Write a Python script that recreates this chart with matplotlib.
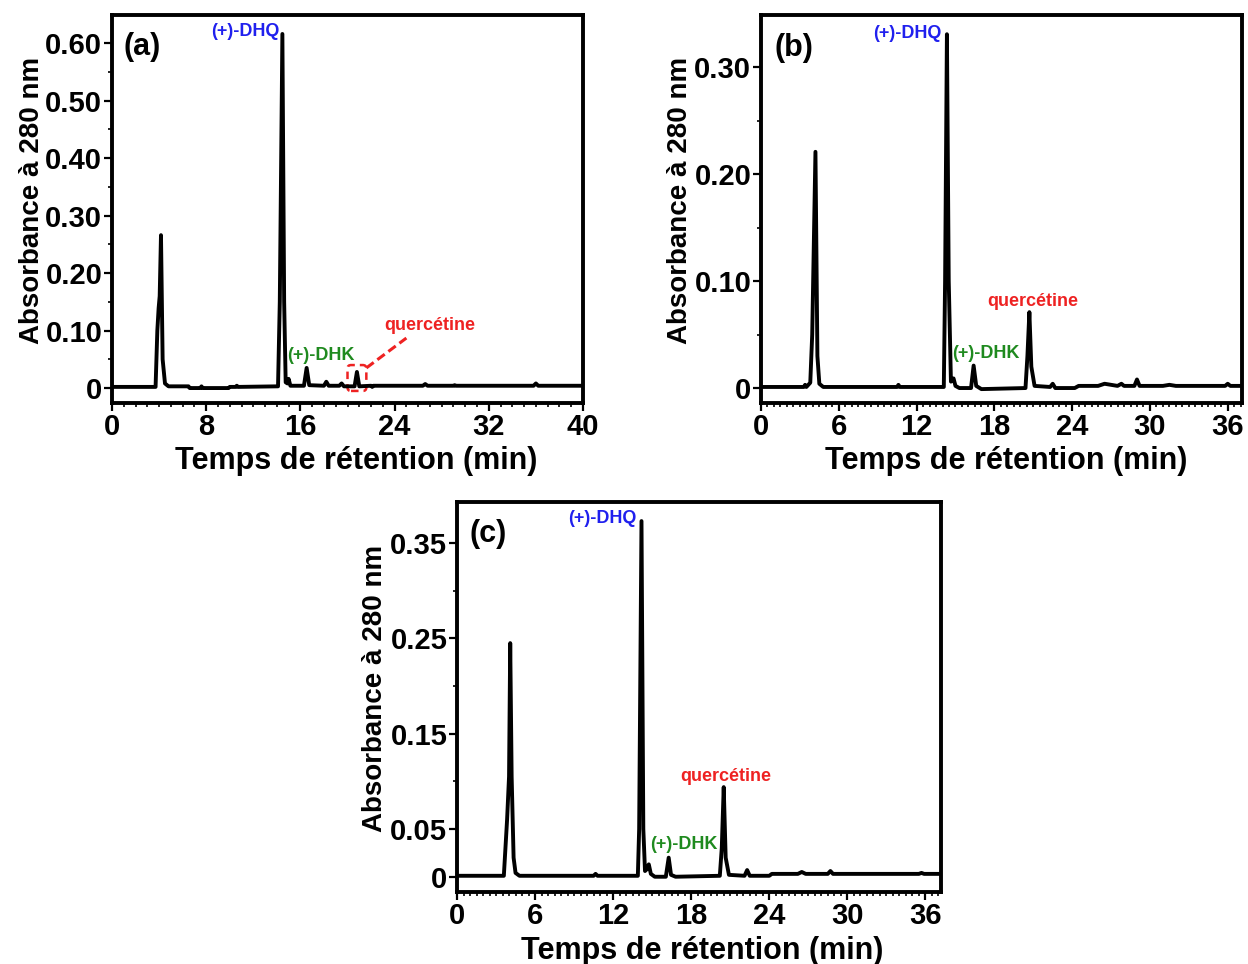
import numpy as np
import matplotlib.pyplot as plt
from matplotlib.ticker import MultipleLocator, FixedLocator
from matplotlib.patches import FancyBboxPatch

plt.rcParams['font.family'] = ['Liberation Sans', 'DejaVu Sans']

# chromatogram (a): retention time (min), absorbance at 280 nm
t_a = [0, 3.7, 3.85, 3.96, 4.05, 4.16, 4.3, 4.5, 4.8, 6.5, 6.6, 7.5, 7.6, 7.7, 9.9, 10.0,
       10.5, 10.6, 10.7, 14.1, 14.25, 14.47, 14.62, 14.75, 14.9, 15.0, 15.15, 16.3, 16.53,
       16.75, 18.0, 18.2, 18.4, 19.3, 19.5, 19.7, 20.6, 20.8, 21.0, 22.0, 22.1, 22.2, 26.4,
       26.6, 26.8, 29.0, 29.1, 29.2, 35.8, 36.0, 36.2, 40.0]
a_a = [0.002, 0.002, 0.10, 0.139, 0.16, 0.266, 0.05, 0.008, 0.003, 0.003, 0.0, 0.0, 0.003,
       0.0, 0.0, 0.002, 0.002, 0.004, 0.002, 0.003, 0.15, 0.616, 0.15, 0.01, 0.008, 0.016,
       0.004, 0.004, 0.035, 0.005, 0.004, 0.011, 0.004, 0.004, 0.008, 0.003, 0.003, 0.028,
       0.003, 0.004, 0.002, 0.004, 0.004, 0.007, 0.004, 0.004, 0.005, 0.004, 0.004, 0.008,
       0.004, 0.004]

# chromatogram (b)
t_b = [0, 3.3, 3.4, 3.5, 3.8, 3.95, 4.2, 4.35, 4.5, 4.8, 10.5, 10.6, 10.7, 14.1, 14.2,
       14.34, 14.48, 14.65, 14.85, 15.0, 15.3, 16.2, 16.4, 16.6, 17.0, 20.4, 20.55, 20.7,
       20.85, 21.1, 22.3, 22.5, 22.7, 23.0, 24.2, 24.5, 26.0, 26.5, 27.5, 27.8, 28.0, 28.8,
       29.0, 29.2, 31.0, 31.5, 32.0, 35.8, 36.0, 36.2, 37.1]
a_b = [0.001, 0.001, 0.003, 0.001, 0.005, 0.05, 0.221, 0.03, 0.004, 0.001, 0.001, 0.003,
       0.001, 0.001, 0.1, 0.331, 0.1, 0.006, 0.009, 0.002, 0.0, 0.0, 0.021, 0.002, -0.001,
       0.0, 0.03, 0.071, 0.02, 0.002, 0.001, 0.004, 0.0, 0.0, 0.0, 0.002, 0.002, 0.004,
       0.002, 0.004, 0.002, 0.002, 0.008, 0.002, 0.002, 0.003, 0.002, 0.002, 0.004, 0.002,
       0.002]

# chromatogram (c)
t_c = [0, 3.6, 3.85, 4.0, 4.09, 4.2, 4.35, 4.5, 4.8, 10.5, 10.65, 10.8, 13.9, 14.0,
       14.18, 14.32, 14.45, 14.6, 14.74, 14.9, 15.2, 16.05, 16.27, 16.45, 16.8, 20.2, 20.35,
       20.5, 20.65, 20.9, 22.1, 22.3, 22.5, 24.0, 24.2, 26.2, 26.5, 26.8, 28.5, 28.7, 28.9,
       35.5, 35.7, 35.9, 37.2]
a_c = [0.001, 0.001, 0.06, 0.105, 0.245, 0.105, 0.02, 0.004, 0.001, 0.001, 0.003, 0.001,
       0.001, 0.05, 0.373, 0.05, 0.006, 0.008, 0.013, 0.003, 0.0, 0.0, 0.020, 0.002, 0.0,
       0.001, 0.03, 0.094, 0.02, 0.002, 0.001, 0.007, 0.001, 0.001, 0.003, 0.003, 0.005,
       0.003, 0.003, 0.006, 0.003, 0.003, 0.004, 0.003, 0.003]

panels = [
    dict(t=t_a, a=a_a, tag='(a)', xmax=40, xstep=8, xminor=1, ylim=(-0.026, 0.649),
         yticks=[0, 0.10, 0.20, 0.30, 0.40, 0.50, 0.60],
         ylabels=['0', '0.10', '0.20', '0.30', '0.40', '0.50', '0.60'], yminor=0.05,
         tagpos=(2.6, 0.594), dhq=(11.3, 0.621), dhk=(17.7, 0.056), qu=(27.0, 0.108),
         xl=0.518),
    dict(t=t_b, a=a_b, tag='(b)', xmax=37.1, xstep=6, xminor=0.5, ylim=(-0.014, 0.349),
         yticks=[0, 0.10, 0.20, 0.30], ylabels=['0', '0.10', '0.20', '0.30'], yminor=0.05,
         tagpos=(2.55, 0.318), dhq=(11.3, 0.332), dhk=(17.35, 0.032), qu=(20.95, 0.081),
         xl=0.509),
    dict(t=t_c, a=a_c, tag='(c)', xmax=37.2, xstep=6, xminor=0.5, ylim=(-0.016, 0.393),
         yticks=[0, 0.05, 0.15, 0.25, 0.35], ylabels=['0', '0.05', '0.15', '0.25', '0.35'],
         yminor=0.05, tagpos=(2.43, 0.359), dhq=(11.2, 0.376), dhk=(17.42, 0.034),
         qu=(20.65, 0.105), xl=0.506),
]

W, H = 1248, 964
fig = plt.figure(figsize=(12.48, 9.64), dpi=100)
# pixel boxes: left, right, top, bottom
boxes = [(112, 583, 15, 403), (761, 1242, 15, 403), (457, 941, 502, 892)]

for p, (l, r, t, b) in zip(panels, boxes):
    ax = fig.add_axes([l / W, 1 - b / H, (r - l) / W, (b - t) / H])
    ax.plot(p['t'], p['a'], color='black', lw=2.8, solid_joinstyle='round')
    ax.set_xlim(0, p['xmax'])
    ax.set_ylim(*p['ylim'])
    ax.xaxis.set_major_locator(MultipleLocator(p['xstep']))
    ax.xaxis.set_minor_locator(MultipleLocator(p['xminor']))
    ax.yaxis.set_major_locator(FixedLocator(p['yticks']))
    ax.set_yticklabels(p['ylabels'])
    ax.yaxis.set_minor_locator(MultipleLocator(p['yminor']))
    for s in ax.spines.values():
        s.set_linewidth(2.8)
    ax.tick_params(which='major', direction='out', length=6, width=1.6, labelsize=21,
                   pad=1, top=False, right=False)
    ax.tick_params(which='minor', direction='out', length=3, width=1.2, top=False, right=False)
    for lab in ax.get_xticklabels() + ax.get_yticklabels():
        lab.set_fontweight('bold')
    ax.set_xlabel('Temps de rétention (min)', fontsize=22, fontweight='bold')
    ax.xaxis.set_label_coords(p['xl'], -0.112)
    ax.xaxis.label.set_va('top')
    ax.set_ylabel('Absorbance à 280 nm', fontsize=20, fontweight='bold')
    ax.yaxis.set_label_coords(-0.142, 0.523)
    ax.text(*p['tagpos'], p['tag'], fontsize=22, fontweight='bold', ha='center', va='center')
    ax.text(*p['dhq'], '(+)-DHQ', fontsize=13, fontweight='bold', color='#2020ee',
            ha='center', va='center')
    ax.text(*p['dhk'], '(+)-DHK', fontsize=13, fontweight='bold', color='#1f8a1f',
            ha='center', va='center')
    ax.text(*p['qu'], 'quercétine', fontsize=13, fontweight='bold', color='#ee2222',
            ha='center', va='center')
    if p['tag'] == '(a)':
        # zoom box around the quercetin peak
        ax.add_patch(FancyBboxPatch((20.0, -0.005), 1.6, 0.045,
                                    boxstyle='round,pad=0,rounding_size=0.3',
                                    fill=False, edgecolor='#ee2222', lw=1.8,
                                    linestyle=(0, (3, 2)), mutation_aspect=0.02))
        ax.plot([21.6, 25.0], [0.035, 0.087], color='#ee2222', lw=2.2,
                linestyle=(0, (3, 1.5)))

fig.savefig('out.png', dpi=100)
